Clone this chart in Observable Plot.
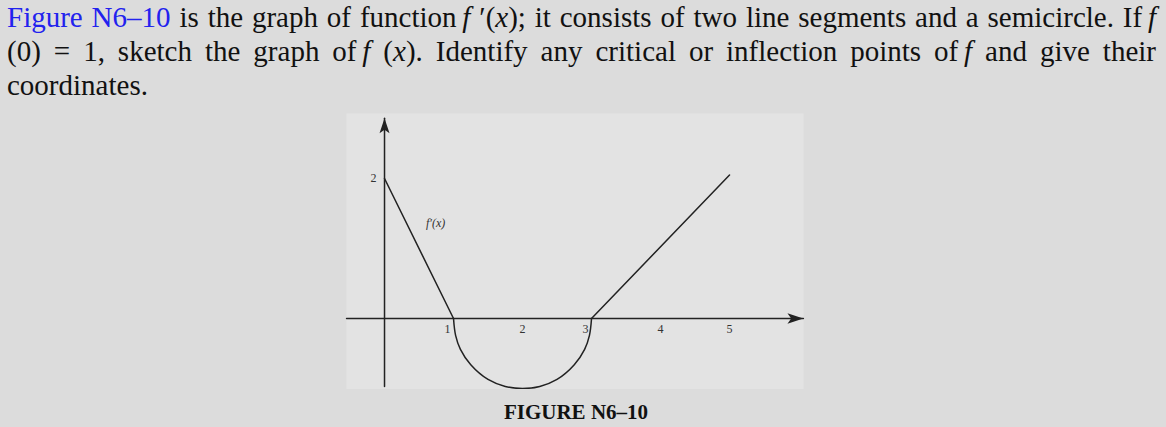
<!DOCTYPE html>
<html>
<head>
<meta charset="utf-8">
<script src="https://cdn.jsdelivr.net/npm/d3@7"></script>
<script src="https://cdn.jsdelivr.net/npm/@observablehq/plot@0.6"></script>
<style>
  html, body { margin: 0; padding: 0; background: #dcdcdc; width: 1166px; height: 427px; overflow: hidden; }
  #para { position: absolute; left: 7px; top: 0; width: 1149px; font-family: "Liberation Serif", "Times New Roman", serif; font-size: 29px; line-height: 34px; color: #111; }
  #para div.j { text-align: justify; text-align-last: justify; }
  #para i { font-family: "Liberation Serif", serif; }
  #para .blue { color: #2222ee; }
  #chart { position: absolute; left: 0; top: 100px; }
  #chart text { font-family: "Liberation Serif", serif; }
  #caption { position: absolute; left: 0; width: 1152px; top: 400px; text-align: center; font-family: "Liberation Serif", serif; font-weight: bold; font-size: 21px; line-height: 24px; color: #111; }
</style>
</head>
<body>
<div id="para">
  <div class="j"><span class="blue">Figure N6–10</span> is the graph of function&thinsp;<i>f</i> ′(<i>x</i>); it consists of two line segments and a semicircle. If&thinsp;<i>f</i></div>
  <div class="j">(0) = 1, sketch the graph of&thinsp;<i>f</i> (<i>x</i>). Identify any critical or inflection points of&thinsp;<i>f</i> and give their</div>
  <div>coordinates.</div>
</div>
<div id="chart"></div>
<div id="caption">FIGURE N6–10</div>
<script>
// Data
const seg1X = [0, 1];
const seg1Y = [2, 0];
const arcX = [1, 1.03, 1.1, 1.25, 1.5, 1.75, 2, 2.25, 2.5, 2.75, 2.9, 2.97, 3];
const arcY = [0, -0.24, -0.44, -0.66, -0.87, -0.97, -1, -0.97, -0.87, -0.66, -0.44, -0.24, 0];
const seg2X = [3, 5];
const seg2Y = [0, 2.05];
const xTicksCentered = [2, 4, 5];
const xTicksLeft = [1, 3];
const yTicks = [2];
const curveLabel = [{x: 0.74, y: 1.36, text: "f′(x)"}];
const xAxisExtent = [-0.55, 6.07];
const yAxisExtent = [-0.97, 2.86];

const toPts = (xs, ys) => xs.map((x, i) => ({x, y: ys[i]}));

// Dart-shaped arrowhead; tip at the anchor, pointing up
const dart = {
  draw(ctx, size) {
    const k = Math.sqrt(size / Math.PI);
    ctx.moveTo(0, 0);
    ctx.lineTo(-k, 3 * k);
    ctx.lineTo(0, 2.3 * k);
    ctx.lineTo(k, 3 * k);
    ctx.closePath();
  }
};

const ink = "#222";
const serif = "Liberation Serif, serif";
const chart = Plot.plot({
  width: 1166,
  height: 289,
  marginLeft: 346,
  marginRight: 363,
  marginTop: 13,
  marginBottom: 0,
  x: {domain: [-0.551, 6.072], axis: null},
  y: {domain: [-1.014, 2.929], axis: null},
  style: {background: "transparent", fontFamily: serif},
  marks: [
    Plot.frame({fill: "#e3e3e3", stroke: "none"}),
    // axes
    Plot.line(toPts(xAxisExtent, [0, 0]), {x: "x", y: "y", stroke: ink, strokeWidth: 1.5}),
    Plot.line(toPts([0, 0], yAxisExtent), {x: "x", y: "y", stroke: ink, strokeWidth: 1.5}),
    Plot.dot([{x: xAxisExtent[1], y: 0}], {x: "x", y: "y", symbol: dart, r: 5.3, rotate: 90, fill: ink, stroke: "none"}),
    Plot.dot([{x: 0, y: yAxisExtent[1]}], {x: "x", y: "y", symbol: dart, r: 5, rotate: 0, fill: ink, stroke: "none"}),
    // f'(x)
    Plot.line(toPts(seg1X, seg1Y), {x: "x", y: "y", stroke: ink, strokeWidth: 1.5}),
    Plot.line(toPts(arcX, arcY), {x: "x", y: "y", stroke: ink, strokeWidth: 1.5, curve: "catmull-rom"}),
    Plot.line(toPts(seg2X, seg2Y), {x: "x", y: "y", stroke: ink, strokeWidth: 1.5}),
    // tick labels
    Plot.text(xTicksCentered, {x: d => d, y: 0, text: d => String(d), dy: 11, fontSize: 12, fontFamily: serif, fill: "#333"}),
    Plot.text(xTicksLeft, {x: d => d, y: 0, text: d => String(d), dy: 11, dx: -3, textAnchor: "end", fontSize: 12, fontFamily: serif, fill: "#333"}),
    Plot.text(yTicks, {x: 0, y: d => d, text: d => String(d), dx: -8, textAnchor: "end", fontSize: 12, fontFamily: serif, fill: "#333"}),
    Plot.text(curveLabel, {x: "x", y: "y", text: "text", fontSize: 12, fontStyle: "italic", fontFamily: serif, fill: "#333"})
  ]
});
document.getElementById("chart").appendChild(chart);
</script>
</body>
</html>
